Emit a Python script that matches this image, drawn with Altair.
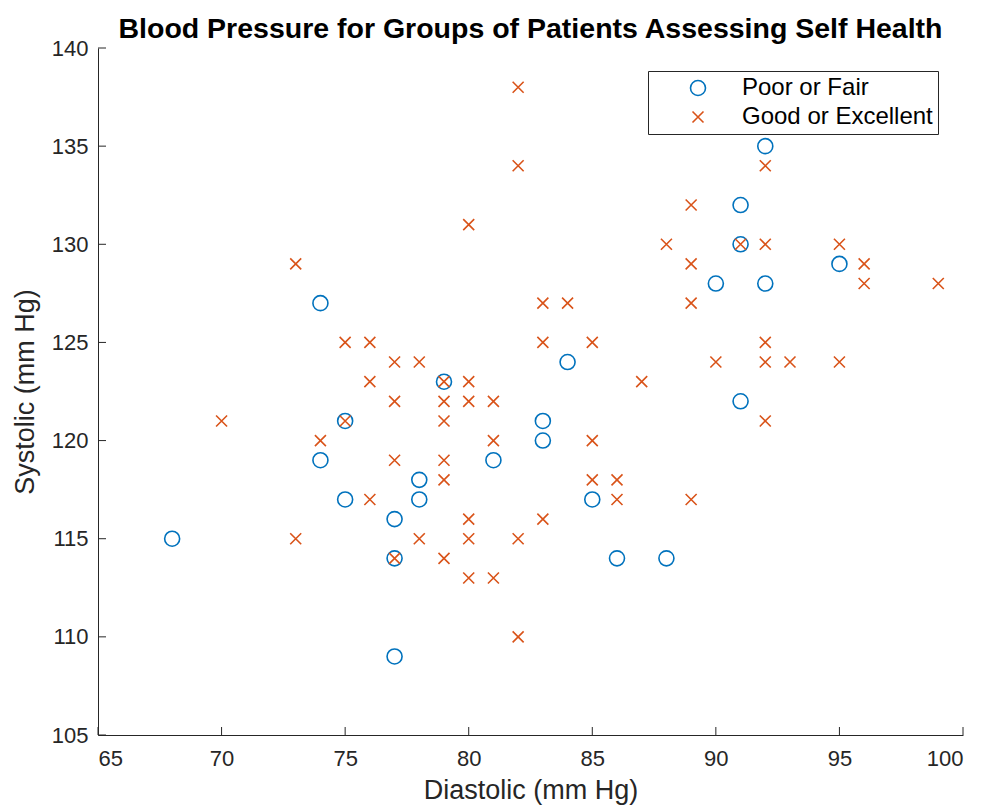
import altair as alt
import pandas as pd

groups = ["Poor or Fair", "Good or Excellent"]
colors = ["#0072BD", "#D95319"]

poor_dia = [68, 74, 74, 75, 75, 77, 77, 77, 78, 78, 79, 81, 83, 83, 84, 85, 86, 88, 90, 91, 91, 91, 92, 92, 95]
poor_sys = [115, 127, 119, 121, 117, 116, 114, 109, 118, 117, 123, 119, 121, 120, 124, 117, 114, 114, 128, 132, 130, 122, 135, 128, 129]

good_dia = [70, 73, 73, 74, 75, 75, 76, 76, 76, 77, 77, 77, 77, 78, 78,
            79, 79, 79, 79, 79, 79, 80, 80, 80, 80, 80, 80, 81, 81, 81,
            82, 82, 82, 82, 83, 83, 83, 84, 85, 85, 85, 86, 86, 87, 88,
            89, 89, 89, 89, 90, 91, 92, 92, 92, 92, 92, 93, 95, 95, 96, 96, 99]
good_sys = [121, 129, 115, 120, 125, 121, 125, 123, 117, 124, 122, 119, 114, 124, 115,
            123, 122, 121, 119, 118, 114, 131, 123, 122, 116, 115, 113, 122, 120, 113,
            138, 134, 115, 110, 127, 125, 116, 127, 125, 120, 118, 118, 117, 123, 130,
            132, 129, 127, 117, 124, 130, 134, 130, 125, 124, 121, 124, 130, 124, 129, 128, 128]

x_ticks = [65, 70, 75, 80, 85, 90, 95, 100]
y_ticks = [105, 110, 115, 120, 125, 130, 135, 140]

df = pd.DataFrame({
    "dia": poor_dia + good_dia,
    "sys": poor_sys + good_sys,
    "group": [groups[0]] * len(poor_dia) + [groups[1]] * len(good_dia),
})

W, H = 865, 687
FONT = "Liberation Sans"
AX = "#262626"

xscale = alt.Scale(domain=[65, 100], nice=False, zero=False)
yscale = alt.Scale(domain=[105, 140], nice=False, zero=False)
xaxis = alt.Axis(values=x_ticks, ticks=False, grid=False, title="Diastolic (mm Hg)",
                 labelPadding=13, titlePadding=8)
yaxis = alt.Axis(values=y_ticks, ticks=False, grid=False, title="Systolic (mm Hg)",
                 labelPadding=10, titlePadding=12)

points = alt.Chart(df).mark_point(filled=False, strokeWidth=1.6, opacity=1).encode(
    x=alt.X("dia:Q", scale=xscale, axis=xaxis),
    y=alt.Y("sys:Q", scale=yscale, axis=yaxis),
    color=alt.Color("group:N", scale=alt.Scale(domain=groups, range=colors), title=None),
    shape=alt.Shape("group:N", scale=alt.Scale(domain=groups, range=["circle", "M-1,-1L1,1M-1,1L1,-1"]), title=None),
    size=alt.Size("group:N", scale=alt.Scale(domain=groups, range=[225, 121]), title=None),
)

xt = alt.Chart(pd.DataFrame({"dia": x_ticks})).mark_rule(color=AX, strokeWidth=1).encode(
    x=alt.X("dia:Q", scale=xscale, axis=xaxis),
    y=alt.value(H), y2=alt.value(H - 8),
)
yt = alt.Chart(pd.DataFrame({"sys": y_ticks})).mark_rule(color=AX, strokeWidth=1).encode(
    y=alt.Y("sys:Q", scale=yscale, axis=yaxis),
    x=alt.value(0), x2=alt.value(8),
)

chart = alt.layer(points, xt, yt).properties(
    width=W, height=H,
    title=alt.TitleParams(
        "Blood Pressure for Groups of Patients Assessing Self Health",
        font=FONT, fontSize=28.5, fontWeight="bold", color="#000000",
        anchor="middle", offset=8, dy=14,
    ),
    padding={"left": 90, "top": 40, "right": 15, "bottom": 70},
    autosize=alt.AutoSizeParams(type="none"),
).configure_view(stroke=None).configure_axis(
    labelFont=FONT, labelFontSize=22, labelColor=AX,
    titleFont=FONT, titleFontSize=27, titleFontWeight="normal", titleColor=AX,
    domainColor=AX, domainWidth=1,
).configure_legend(
    orient="none", legendX=550, legendY=23,
    strokeColor=AX, fillColor="white", padding=5,
    labelFont=FONT, labelFontSize=24, labelColor="#000000", labelLimit=400,
    symbolOffset=33, labelOffset=32, rowPadding=5, symbolStrokeWidth=1.6,
)

chart.save("out.html", embed_options={"renderer": "svg", "actions": False})
